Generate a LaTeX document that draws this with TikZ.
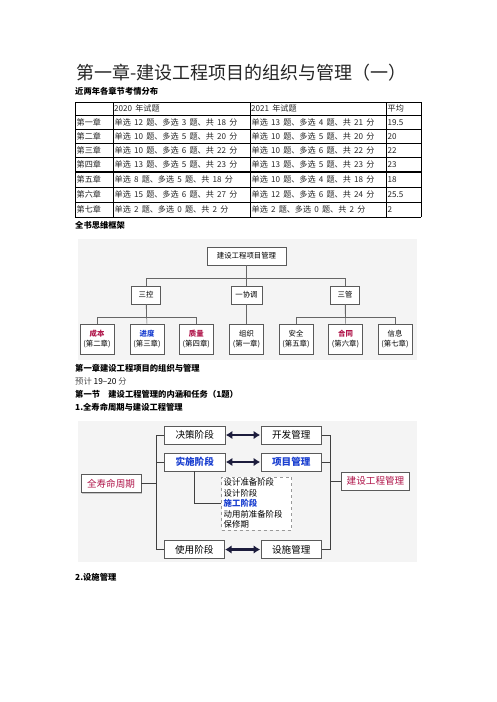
\documentclass[tikz,border=0pt]{standalone}
\usepackage{fontspec}
\setmainfont{Noto Sans CJK SC}
\usetikzlibrary{arrows.meta,shadows}
\definecolor{crim}{HTML}{B0154A}
\definecolor{blu}{HTML}{1A3FD0}
\definecolor{navy}{HTML}{1C1C3C}
\definecolor{panel}{HTML}{F4F4F4}
\definecolor{bord}{HTML}{5A5A5A}
\newcommand\mycellfont{\fontsize{8.1}{9}\selectfont\spaceskip=3.2pt\relax}
\begin{document}
\begin{tikzpicture}[x=1pt,y=-1pt,
  txt/.style={anchor=west,inner sep=0pt,font=\fontsize{8}{9}\selectfont},
  cell/.style={anchor=west,inner sep=0pt,font=\mycellfont,text=black!85},
  hd/.style={anchor=west,inner sep=0pt,font=\fontsize{8.3}{9}\selectfont\bfseries},
  obox/.style={draw=bord,line width=0.6pt,fill=white,inner sep=0pt,align=center,
    font=\fontsize{7.4}{9.5}\selectfont,drop shadow={shadow xshift=0.8pt,shadow yshift=-0.8pt,fill=gray!70,opacity=0.6}},
  fbox/.style={draw=bord,line width=0.6pt,fill=white,inner sep=0pt,align=center,
    font=\fontsize{9.6}{11}\selectfont,drop shadow={shadow xshift=0.8pt,shadow yshift=-0.8pt,fill=gray!70,opacity=0.6}},
  conn/.style={draw=black!60,line width=0.5pt},
  darr/.style={draw=navy,line width=2.6pt,{Latex[length=6.5pt,width=8.5pt]}-{Latex[length=6.5pt,width=8.5pt]},shorten <=0.5pt,shorten >=0.5pt}
]
\useasboundingbox[fill=white] (0,0) rectangle (496,702);

% title
\node[inner sep=0pt,font=\fontsize{18}{20}\selectfont,text=black!85] (title) at (241.5,73) {第一章-建设工程项目的组织与管理（一）};
\node[hd] (sub) at (75,91.5) {近两年各章节考情分布};

% table
\foreach \yy in {102,115,129.5,143.5,157.5,187,202,217}{
  \draw[line width=0.6pt] (75,\yy) -- (421,\yy);
}
\draw[line width=1.6pt] (75,172) -- (421,172);
\foreach \xx in {75,113,250,386,421}{
  \draw[line width=0.6pt] (\xx,102) -- (\xx,217);
}
\node[cell] (h2) at (114,108.5) {2020 年试题};
\node[cell] (h3) at (251,108.5) {2021 年试题};
\node[cell] (h4) at (387.5,108.5) {平均};
\foreach \i/\yc/\ch/\a/\b/\c in {
  1/122.2/第一章/单选 12 题、多选 3 题、共 18 分/单选 13 题、多选 4 题、共 21 分/19.5,
  2/136.5/第二章/单选 10 题、多选 5 题、共 20 分/单选 10 题、多选 5 题、共 20 分/20,
  3/150.5/第三章/单选 10 题、多选 6 题、共 22 分/单选 10 题、多选 6 题、共 22 分/22,
  4/164.7/第四章/单选 13 题、多选 5 题、共 23 分/单选 13 题、多选 5 题、共 23 分/23,
  5/179.5/第五章/单选 8 题、多选 5 题、共 18 分/单选 10 题、多选 4 题、共 18 分/18,
  6/194.5/第六章/单选 15 题、多选 6 题、共 27 分/单选 12 题、多选 6 题、共 24 分/25.5,
  7/209.5/第七章/单选 2 题、多选 0 题、共 2 分/单选 2 题、多选 0 题、共 2 分/2}{
  \node[cell] (r\i c1) at (76.5,\yc) {\ch};
  \node[cell] (r\i c2) at (114.5,\yc) {\a};
  \node[cell] (r\i c3) at (251.5,\yc) {\b};
  \node[cell] (r\i c4) at (387.5,\yc) {\c};
}

\node[hd] (kj) at (75,225.5) {全书思维框架};

% panel 1
\fill[panel] (78,239) rectangle (417,360);
\node[obox,minimum width=79pt,minimum height=18pt] (top) at (246.5,256) {建设工程项目管理};
\node[obox,minimum width=28.5pt,minimum height=18pt] (sk) at (146,295) {三控};
\node[obox,minimum width=30.6pt,minimum height=18pt] (xt) at (246.5,295) {一协调};
\node[obox,minimum width=28.6pt,minimum height=18pt] (sg) at (345,295) {三管};
\tikzset{bb/.style={obox,minimum width=34pt,minimum height=30pt}}
\node[bb] (cb) at (97,339) {\textcolor{crim}{\bfseries 成本}\\(第二章)};
\node[bb] (jd) at (147,339) {\textcolor{blu}{\bfseries 进度}\\(第三章)};
\node[bb] (zl) at (196.3,339) {\textcolor{crim}{\bfseries 质量}\\(第四章)};
\node[bb] (zz) at (246.5,339) {组织\\(第一章)};
\node[bb] (aq) at (296,339) {安全\\(第五章)};
\node[bb] (ht) at (345.5,339) {\textcolor{crim}{\bfseries 合同}\\(第六章)};
\node[bb] (xx) at (395,339) {信息\\(第七章)};
\coordinate (bus1) at (246.5,278);
\coordinate (bus2) at (146,317.7);
\coordinate (bus3) at (345,317.7);
\draw[conn] (top.south) -- (top.south |- bus1) -| (sk.north);
\draw[conn] (top.south |- bus1) -| (sg.north);
\draw[conn] (top.south) -- (xt.north);
\draw[conn] (sk.south) -- (sk.south |- bus2) -| (cb.north);
\draw[conn] (sk.south |- bus2) -| (zl.north);
\draw[conn] (sk.south) -- (jd.north);
\draw[conn] (xt.south) -- (zz.north);
\draw[conn] (sg.south) -- (sg.south |- bus3) -| (aq.north);
\draw[conn] (sg.south |- bus3) -| (xx.north);
\draw[conn] (sg.south) -- (ht.north);

% texts
\node[hd] (t1) at (75,368) {第一章建设工程项目的组织与管理};
\node[txt,font=\fontsize{8.3}{9}\selectfont] (t2) at (75,381) {\textcolor{black!70}{预计} 19–20 \textcolor{black!70}{分}};
\node[hd] (t3) at (75,394.5) {第一节\quad 建设工程管理的内涵和任务（1题）};
\node[hd] (t4) at (75,407.5) {1.全寿命周期与建设工程管理};

% panel 2
\fill[panel] (78,421) rectangle (417,562);
\node[fbox,minimum width=60.7pt,minimum height=18pt] (jc) at (194.7,435) {决策阶段};
\node[fbox,minimum width=60.7pt,minimum height=18pt] (ss) at (194.7,462) {\textcolor{blu}{\bfseries 实施阶段}};
\node[fbox,minimum width=60.3pt,minimum height=18.4pt] (qs) at (111,483.5) {\textcolor{crim}{全寿命周期}};
\node[fbox,minimum width=60.7pt,minimum height=18pt] (kf) at (291.3,435) {开发管理};
\node[fbox,minimum width=60.7pt,minimum height=18pt] (xm) at (291.3,462) {\textcolor{blu}{\bfseries 项目管理}};
\node[fbox,minimum width=67.6pt,minimum height=18.4pt] (jsgl) at (375.5,481) {\textcolor{crim}{建设工程管理}};
\node[fbox,minimum width=60pt,minimum height=17.6pt] (sy) at (194.3,549.5) {使用阶段};
\node[fbox,minimum width=60.7pt,minimum height=17.6pt] (ssg) at (291.3,549.5) {设施管理};
\node[draw=gray!80,dashed,line width=0.7pt,fill=white,minimum width=70pt,minimum height=53pt,inner sep=0pt] (dash) at (256.7,503.5) {};
\foreach \n/\yy/\tt in {d1/482.5/设计准备阶段,d2/493/设计阶段,d3/503.5/{\textcolor{blu}{\bfseries 施工阶段}},d4/514/动用前准备阶段,d5/524.5/保修期}{
  \node[anchor=west,inner sep=0pt,font=\fontsize{8.4}{9}\selectfont] (\n) at (223.5,\yy) {\tt};
}
\coordinate (trL) at (156.5,0);
\coordinate (trR) at (330,0);
\draw[conn,black!75] (jc.west) -- (jc.west -| trL) |- (sy.west);
\draw[conn,black!75] (ss.west) -- (ss.west -| trL);
\draw[conn,black!75] (qs.east) -- (qs.east -| trL);
\draw[conn,black!75] (kf.east) -- (kf.east -| trR) |- (ssg.east);
\draw[conn,black!75] (xm.east) -- (xm.east -| trR);
\draw[conn,black!75] (jsgl.west) -- (jsgl.west -| trR);
\draw[conn,black!75] (ss.south) |- (dash.west);
\draw[darr] (jc.east) -- (kf.west);
\draw[darr] (ss.east) -- (xm.west);
\draw[darr] (sy.east) -- (ssg.west);

\node[hd] (t5) at (75,577) {2.设施管理};
\end{tikzpicture}
\end{document}
